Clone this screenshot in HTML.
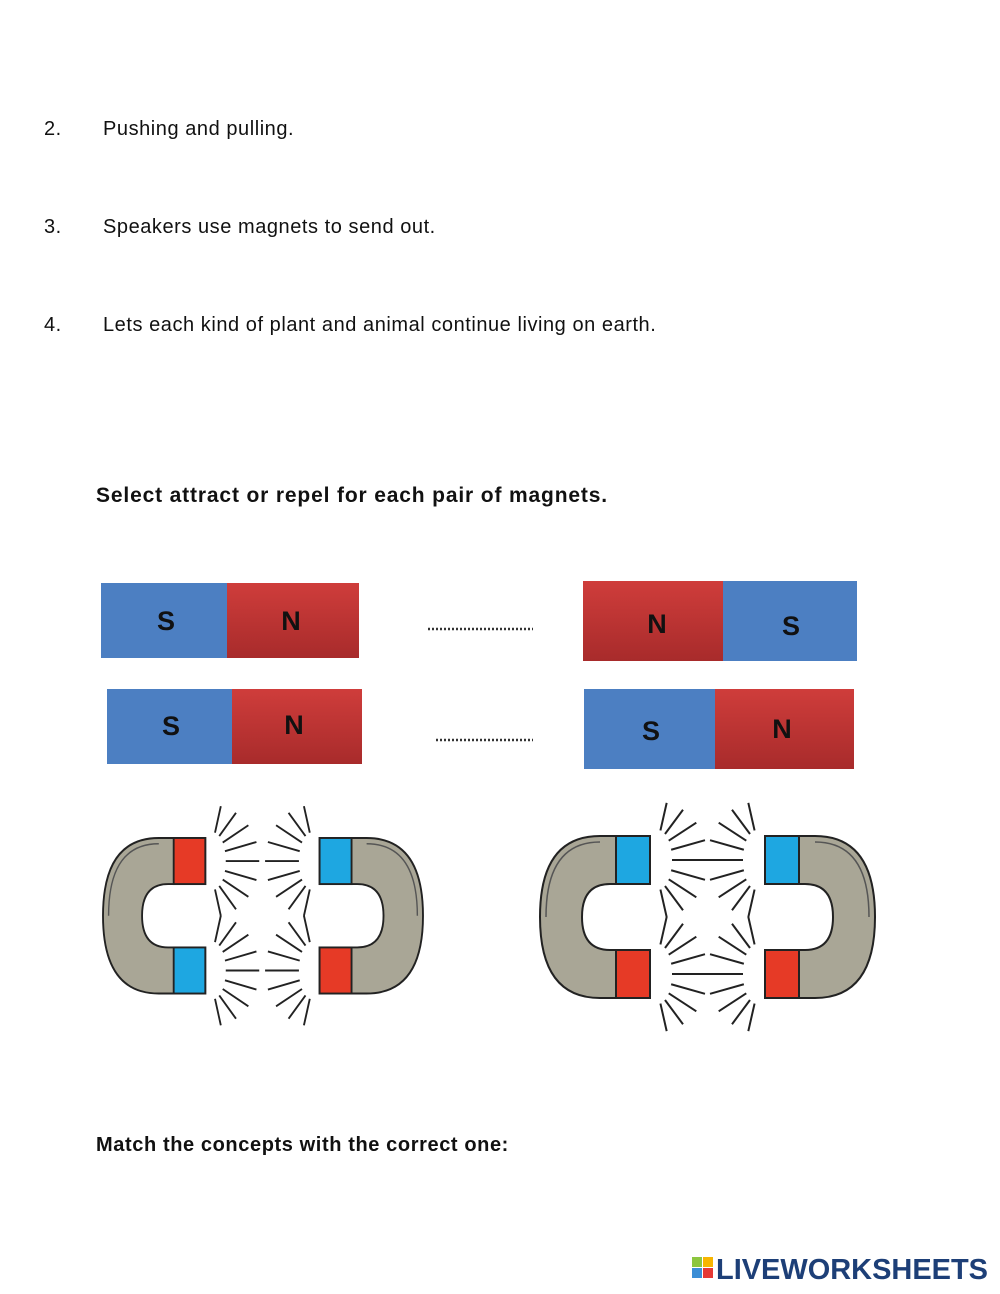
<!DOCTYPE html>
<html><head><meta charset="utf-8"><style>
body{margin:0;width:1000px;height:1294px;background:#fff;position:relative;font-family:"Liberation Sans",Arial,sans-serif;color:#111}
.t{position:absolute;font-size:20px;white-space:nowrap;letter-spacing:0.55px}
.b{font-weight:bold}
</style></head><body>
<div class="t" style="left:44px;top:118px">2.</div><div class="t" style="left:103px;top:118px">Pushing and pulling.</div>
<div class="t" style="left:44px;top:216px">3.</div><div class="t" style="left:103px;top:216px">Speakers use magnets to send out.</div>
<div class="t" style="left:44px;top:314px">4.</div><div class="t" style="left:103px;top:314px">Lets each kind of plant and animal continue living on earth.</div>
<div class="t b" style="left:96px;top:484px;font-size:21px;letter-spacing:0.85px">Select attract or repel for each pair of magnets.</div>
<div class="t b" style="left:96px;top:1134px;font-size:20px;letter-spacing:0.6px">Match the concepts with the correct one:</div>
<svg id="s" width="1000" height="1294" style="position:absolute;left:0;top:0">
<defs>
<linearGradient id="r" x1="0" y1="0" x2="0" y2="1"><stop offset="0" stop-color="#cf3d3b"/><stop offset="1" stop-color="#a82b2b"/></linearGradient>
<g id="hs">
<path d="M110,0 L60,0 Q0,0 0,81 Q0,162 60,162 L110,162 L110,114 L70,114 Q42,114 42,81 Q42,48 70,48 L110,48 Z" fill="#a9a696" stroke="#222" stroke-width="2"/>
<path d="M60,6 Q6,6 6,81" fill="none" stroke="#555" stroke-width="1.5"/>
</g>
</defs>
<g font-family="Liberation Sans,Arial,sans-serif" font-weight="bold" font-size="27" fill="#111" text-anchor="middle">
<rect x="101" y="583" width="126" height="75" fill="#4c7fc2"/><rect x="227" y="583" width="132" height="75" fill="url(#r)"/>
<text x="166" y="630">S</text><text x="291" y="630">N</text>
<rect x="583" y="581" width="140" height="80" fill="url(#r)"/><rect x="723" y="581" width="134" height="80" fill="#4c7fc2"/>
<text x="657" y="633">N</text><text x="791" y="635">S</text>
<rect x="107" y="689" width="125" height="75" fill="#4c7fc2"/><rect x="232" y="689" width="130" height="75" fill="url(#r)"/>
<text x="171" y="735">S</text><text x="294" y="734">N</text>
<rect x="584" y="689" width="131" height="80" fill="#4c7fc2"/><rect x="715" y="689" width="139" height="80" fill="url(#r)"/>
<text x="651" y="740">S</text><text x="782" y="738">N</text>
</g>
<line x1="428" y1="629" x2="533" y2="629" stroke="#333" stroke-width="2.5" stroke-dasharray="2,2"/>
<line x1="436" y1="740" x2="533" y2="740" stroke="#333" stroke-width="2.5" stroke-dasharray="2,2"/>
<g id="mags"></g>
<g transform="translate(692,1257)">
<rect x="0" y="0" width="10" height="10" fill="#8cc63f"/><rect x="11" y="0" width="10" height="10" fill="#f7b500"/>
<rect x="0" y="11" width="10" height="10" fill="#3b8ed6"/><rect x="11" y="11" width="10" height="10" fill="#e53935"/>
<text x="24" y="22" font-family="Liberation Sans,Arial,sans-serif" font-weight="bold" font-size="29" fill="#1d3f77" textLength="272" lengthAdjust="spacingAndGlyphs">LIVEWORKSHEETS</text>
</g>
</svg>
<script>
var g=document.getElementById('mags'),h='';
function mag(tx,ty,sx,sy,top,bot){
 h+='<g transform="translate('+tx+','+ty+') scale('+sx+','+sy+')"><use href="#hs"/>'+
 '<rect x="76" y="0" width="34" height="48" fill="'+top+'" stroke="#222" stroke-width="2"/>'+
 '<rect x="76" y="114" width="34" height="48" fill="'+bot+'" stroke="#222" stroke-width="2"/>';
 [[118,24],[118,138]].forEach(function(c){
  for(var a=-80;a<=80;a+=20){var r=a*Math.PI/180;var x1=c[0]+Math.cos(r)*14,y1=c[1]+Math.sin(r)*30,x2=c[0]+Math.cos(r)*50,y2=c[1]+Math.sin(r)*58;
   h+='<line x1="'+x1+'" y1="'+y1+'" x2="'+x2+'" y2="'+y2+'" stroke="#222" stroke-width="2"/>';}
 });
 h+='</g>';
}
var B='#1ea7e1',R='#e63a26';
mag(103,838,0.93,0.96,R,B);
mag(423,838,-0.94,0.96,B,R);
mag(540,836,1,1,B,R);
mag(875,836,-1,1,B,R);
g.innerHTML=h;
</script>
</body></html>
